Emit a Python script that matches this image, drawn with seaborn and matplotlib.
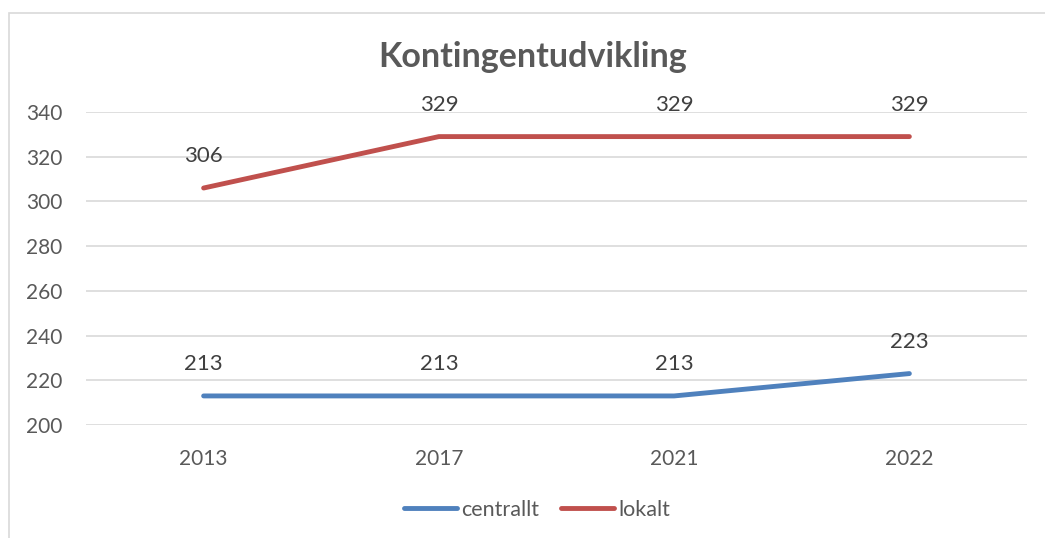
import numpy as np
import pandas as pd
import matplotlib.pyplot as plt
from matplotlib.patches import Rectangle
import seaborn as sns

years = ["2013", "2017", "2021", "2022"]
centrallt = [213, 213, 213, 223]
lokalt = [306, 329, 329, 329]
series = ["centrallt", "lokalt"]
colors = {"centrallt": "#4F81BD", "lokalt": "#C0504D"}

df = pd.DataFrame({
    "year": years * 2,
    "value": centrallt + lokalt,
    "serie": ["centrallt"] * len(years) + ["lokalt"] * len(years),
})

sns.set_theme(style="white")
plt.rcParams["font.family"] = ["Lato", "DejaVu Sans"]

fig = plt.figure(figsize=(10.45, 5.38), dpi=100)
ax = fig.add_axes([86 / 1045, 1 - 425 / 538, 941 / 1045, 313 / 538])

sns.lineplot(data=df, x="year", y="value", hue="serie", palette=colors,
             linewidth=3.5, ax=ax, legend=False, solid_capstyle="round")

# data labels above each point
for s in series:
    sub = df[df["serie"] == s]
    for i, v in enumerate(sub["value"]):
        ax.annotate(str(v), (i, v), xytext=(0, 23), textcoords="offset points",
                    ha="center", va="center", fontsize=16, color="#404040")

ax.set_xlim(-0.5, len(years) - 0.5)
ax.set_ylim(200, 340)
ax.set_yticks(np.arange(200, 341, 20))
ax.grid(axis="y", color="#d9d9d9", linewidth=1.2)
ax.set_axisbelow(True)
for sp in ax.spines.values():
    sp.set_visible(False)
ax.tick_params(axis="both", length=0, labelsize=15, labelcolor="#595959")
ax.tick_params(axis="x", pad=17)
ax.tick_params(axis="y", pad=17)
ax.set_xlabel("")
ax.set_ylabel("")

fig.text(533 / 1045, 1 - 57 / 538, "Kontingentudvikling", ha="center", va="center",
         fontsize=24.5, fontweight="bold", color="#595959")

handles = [plt.Line2D([], [], color=colors[s], linewidth=3.5, solid_capstyle="round") for s in series]
fig.legend(handles, series, loc="center", bbox_to_anchor=(537 / 1045, 1 - 510 / 538),
           ncol=2, frameon=False, fontsize=15.5, labelcolor="#595959",
           handlelength=2.45, handletextpad=0.2, columnspacing=1.0)

fig.patches.append(Rectangle((9 / 1045, -0.1), 1.2, 0.9758 + 0.1, transform=fig.transFigure,
                             fill=False, edgecolor="#d9d9d9", linewidth=1.2))

fig.savefig("out.png", dpi=100)
